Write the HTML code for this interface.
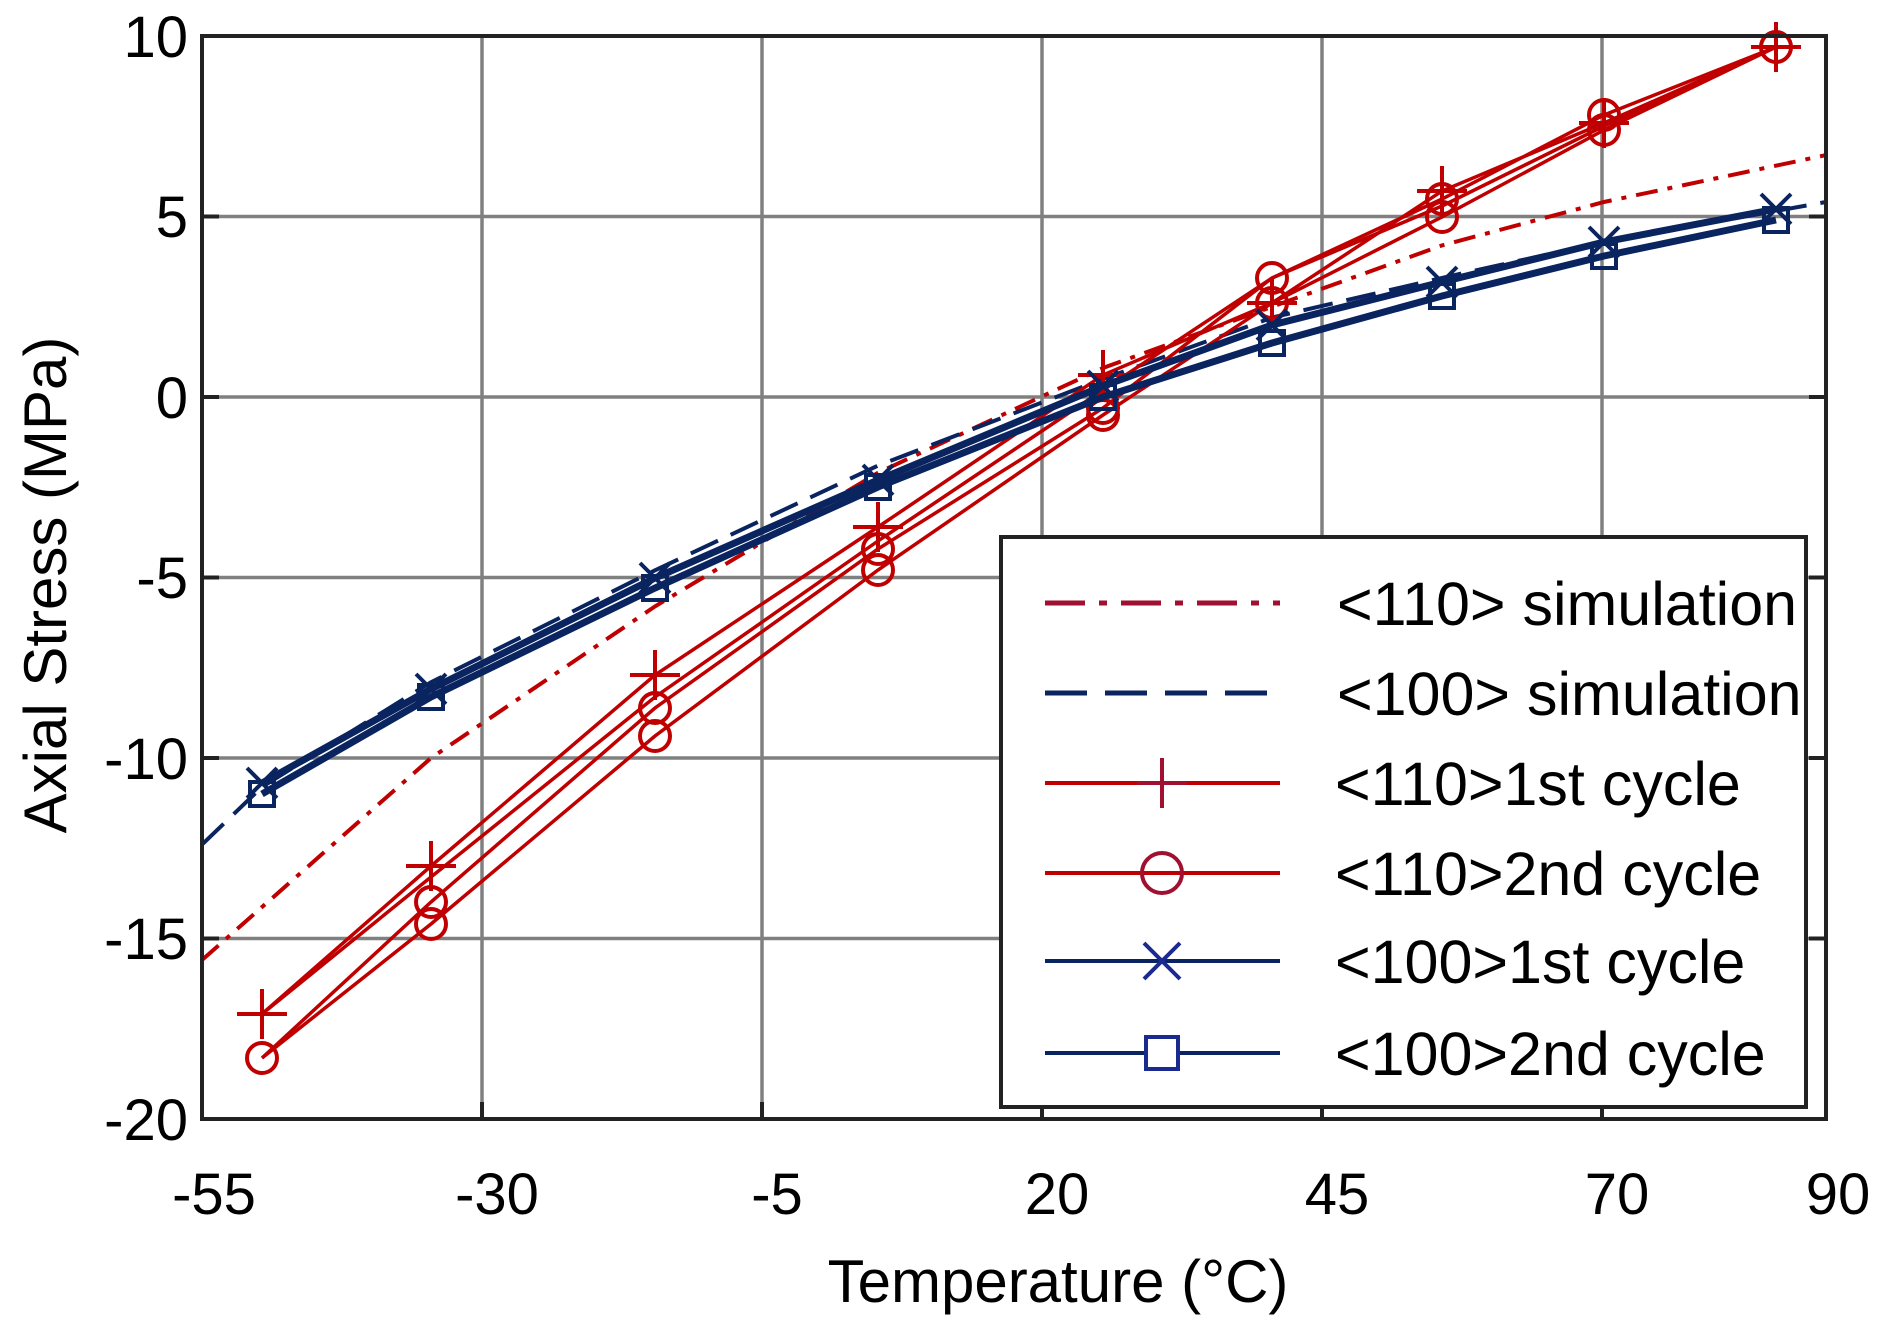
<!DOCTYPE html>
<html><head><meta charset="utf-8"><style>
body{margin:0;background:#fff}
svg{display:block}
text{font-family:"Liberation Sans",sans-serif;fill:#000}
</style></head><body>
<svg width="1884" height="1324" viewBox="0 0 1884 1324" xmlns="http://www.w3.org/2000/svg">
<rect width="1884" height="1324" fill="#fff"/>
<g stroke="#808080" stroke-width="3.5">
<line x1="482" y1="36" x2="482" y2="1119"/><line x1="762" y1="36" x2="762" y2="1119"/><line x1="1042" y1="36" x2="1042" y2="1119"/><line x1="1322" y1="36" x2="1322" y2="1119"/><line x1="1602" y1="36" x2="1602" y2="1119"/>
<line x1="202" y1="216.5" x2="1826" y2="216.5"/><line x1="202" y1="397" x2="1826" y2="397"/><line x1="202" y1="577.5" x2="1826" y2="577.5"/><line x1="202" y1="758" x2="1826" y2="758"/><line x1="202" y1="938.5" x2="1826" y2="938.5"/>
</g>
<g stroke="#222" stroke-width="4">
<line x1="482" y1="1119" x2="482" y2="1102"/><line x1="762" y1="1119" x2="762" y2="1102"/><line x1="1042" y1="1119" x2="1042" y2="1102"/><line x1="1322" y1="1119" x2="1322" y2="1102"/><line x1="1602" y1="1119" x2="1602" y2="1102"/>
<line x1="202" y1="216.5" x2="219" y2="216.5"/><line x1="202" y1="397" x2="219" y2="397"/><line x1="202" y1="577.5" x2="219" y2="577.5"/><line x1="202" y1="758" x2="219" y2="758"/><line x1="202" y1="938.5" x2="219" y2="938.5"/>
<line x1="1826" y1="216.5" x2="1809" y2="216.5"/><line x1="1826" y1="397" x2="1809" y2="397"/><line x1="1826" y1="577.5" x2="1809" y2="577.5"/><line x1="1826" y1="758" x2="1809" y2="758"/><line x1="1826" y1="938.5" x2="1809" y2="938.5"/>
</g>
<polyline fill="none" stroke="#c00000" stroke-width="4" stroke-dasharray="22,10,5,10" points="202,960 431,758 655,606.4 878,472.8 1103,368 1272,306.8 1442,245.4 1604,202 1826,155.1"/>
<polyline fill="none" stroke="#0a2460" stroke-width="4" stroke-dasharray="30,14" points="202,844.6 262,786.9 431,682.2 655,570.3 878,465.6 1103,379 1272,317.6 1442,277.9 1604,241.8 1826,202"/>
<g fill="none" stroke="#c00000" stroke-width="3.5">
<polyline points="262,1014 431,866 655,675 878,527 1103,375 1272,303 1442,191 1604,123 1776,47"/>
<polyline points="262,1014 431,877 655,697 878,541 1103,390 1272,278 1442,206 1604,126 1776,47"/>
<polyline points="262,1058 431,902 655,708 878,549 1103,408 1272,278 1442,199 1604,115 1776,47"/>
<polyline points="262,1058 431,924 655,736 878,570 1103,415 1272,303 1442,217 1604,130 1776,47"/>
</g>
<g stroke="#c00000" stroke-width="4" fill="none">
<path d="M237,1014h50M262,989v50 M406,866h50M431,841v50 M630,675h50M655,650v50 M853,527h50M878,502v50 M1078,375h50M1103,350v50 M1247,303h50M1272,278v50 M1417,191h50M1442,166v50 M1579,123h50M1604,98v50 M1751,47h50M1776,22v50"/>
<circle cx="262" cy="1058" r="15"/><circle cx="431" cy="902" r="15"/><circle cx="431" cy="924" r="15"/><circle cx="655" cy="708" r="15"/><circle cx="655" cy="736" r="15"/><circle cx="878" cy="549" r="15"/><circle cx="878" cy="570" r="15"/><circle cx="1103" cy="408" r="15"/><circle cx="1103" cy="415" r="15"/><circle cx="1272" cy="278" r="15"/><circle cx="1272" cy="303" r="15"/><circle cx="1442" cy="199" r="15"/><circle cx="1442" cy="217" r="15"/><circle cx="1604" cy="115" r="15"/><circle cx="1604" cy="130" r="15"/><circle cx="1776" cy="47" r="15"/>
</g>
<g fill="none" stroke="#0a2460" stroke-width="7">
<polyline points="262,783 431,689 655,578 878,480 1103,386 1272,325 1442,282 1604,242 1776,209"/>
<polyline points="262,794 431,697 655,588 878,487 1103,397 1272,343 1442,296 1604,256 1776,220"/>
</g>
<g fill="none" stroke="#0a2460" stroke-width="4">
<path d="M247,768l30,30M277,768l-30,30 M416,674l30,30M446,674l-30,30 M640,563l30,30M670,563l-30,30 M863,465l30,30M893,465l-30,30 M1088,371l30,30M1118,371l-30,30 M1257,310l30,30M1287,310l-30,30 M1427,267l30,30M1457,267l-30,30 M1589,227l30,30M1619,227l-30,30 M1761,194l30,30M1791,194l-30,30"/>
<rect x="250" y="782" width="24" height="24"/><rect x="419" y="685" width="24" height="24"/><rect x="643" y="576" width="24" height="24"/><rect x="866" y="475" width="24" height="24"/><rect x="1091" y="385" width="24" height="24"/><rect x="1260" y="331" width="24" height="24"/><rect x="1430" y="284" width="24" height="24"/><rect x="1592" y="244" width="24" height="24"/><rect x="1764" y="208" width="24" height="24"/>
</g>
<rect x="202" y="36" width="1624" height="1083" fill="none" stroke="#222" stroke-width="4"/>
<rect x="1001" y="537" width="805" height="570" fill="#fff" stroke="#222" stroke-width="4"/>
<line x1="1045" y1="603" x2="1280" y2="603" stroke="#a01030" stroke-width="5" stroke-dasharray="40,14,8,14"/>
<line x1="1045" y1="693" x2="1280" y2="693" stroke="#0a2460" stroke-width="5" stroke-dasharray="42,18"/>
<line x1="1045" y1="783" x2="1280" y2="783" stroke="#c00000" stroke-width="4"/>
<path d="M1137,783h50M1162,758v50" stroke="#a01030" stroke-width="4"/>
<line x1="1045" y1="873" x2="1280" y2="873" stroke="#c00000" stroke-width="4"/>
<circle cx="1162" cy="873" r="20" fill="none" stroke="#a01030" stroke-width="4"/>
<line x1="1045" y1="961" x2="1280" y2="961" stroke="#0a2460" stroke-width="4"/>
<path d="M1144,943l36,36M1180,943l-36,36" stroke="#1a2a90" stroke-width="4"/>
<line x1="1045" y1="1053" x2="1280" y2="1053" stroke="#0a2460" stroke-width="4"/>
<rect x="1146" y="1037" width="32" height="32" fill="#fff" stroke="#1a2a90" stroke-width="4"/>
<g font-size="61">
<text x="1337" y="625">&lt;110&gt; simulation</text>
<text x="1337" y="715">&lt;100&gt; simulation</text>
<text x="1335" y="805">&lt;110&gt;1st cycle</text>
<text x="1335" y="895">&lt;110&gt;2nd cycle</text>
<text x="1335" y="983">&lt;100&gt;1st cycle</text>
<text x="1335" y="1075">&lt;100&gt;2nd cycle</text>
</g>
<g font-size="58" text-anchor="end">
<text x="188" y="57">10</text><text x="188" y="237">5</text><text x="188" y="418">0</text><text x="188" y="598">-5</text><text x="188" y="779">-10</text><text x="188" y="959">-15</text><text x="188" y="1140">-20</text>
</g>
<g font-size="58" text-anchor="middle">
<text x="214" y="1214">-55</text><text x="497" y="1214">-30</text><text x="777" y="1214">-5</text><text x="1057" y="1214">20</text><text x="1337" y="1214">45</text><text x="1617" y="1214">70</text><text x="1838" y="1214">90</text>
</g>
<text x="1058" y="1302" font-size="60" text-anchor="middle">Temperature (°C)</text>
<text transform="translate(66,585) rotate(-90)" font-size="60" text-anchor="middle">Axial Stress (MPa)</text>
</svg>
</body></html>
